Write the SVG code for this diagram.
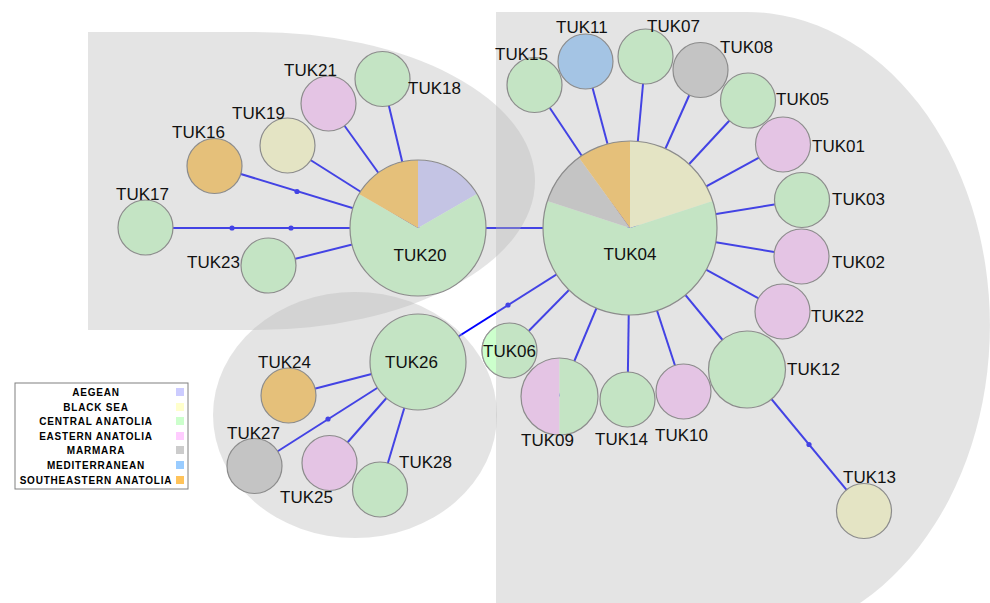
<svg xmlns="http://www.w3.org/2000/svg" width="990" height="603" viewBox="0 0 990 603">
<style>
.e{stroke:#0000ff;stroke-width:2;fill:none}
.d{fill:#0000ff}
.reg{fill:#b6b6b6;opacity:0.37}
.n{stroke:#8c8c8c;stroke-width:1.2}
.o{fill:none;stroke:#8c8c8c;stroke-width:1.2}
.ca{fill:#c4e4c4}.ea{fill:#e4c4e4}.bs{fill:#e4e4c4}.ae{fill:#c4c4e4}.ma{fill:#c4c4c4}.me{fill:#a4c4e4}.se{fill:#e5c07a}
.t{font-family:"Liberation Sans",Arial,sans-serif;font-size:17px;fill:#111}
.lg{font-family:"Liberation Sans",Arial,sans-serif;font-size:10px;font-weight:bold;letter-spacing:0.8px;fill:#000;text-anchor:middle}
</style>
<defs>
<clipPath id="leftOfRegion"><rect x="0" y="0" width="496" height="603"/></clipPath>
</defs>
<rect width="990" height="603" fill="#ffffff"/>
<g id="connectors">
<line class="e" x1="630" y1="228" x2="534.5" y2="85"/>
<line class="e" x1="630" y1="228" x2="585.5" y2="61.5"/>
<line class="e" x1="630" y1="228" x2="645.5" y2="56.5"/>
<line class="e" x1="630" y1="228" x2="700.5" y2="70"/>
<line class="e" x1="630" y1="228" x2="748" y2="100.5"/>
<line class="e" x1="630" y1="228" x2="783" y2="144.5"/>
<line class="e" x1="630" y1="228" x2="802" y2="200"/>
<line class="e" x1="630" y1="228" x2="801.5" y2="256.5"/>
<line class="e" x1="630" y1="228" x2="782.5" y2="311.5"/>
<line class="e" x1="630" y1="228" x2="747" y2="369.5"/>
<line class="e" x1="630" y1="228" x2="683.5" y2="391.5"/>
<line class="e" x1="630" y1="228" x2="627.5" y2="399.5"/>
<line class="e" x1="630" y1="228" x2="559.5" y2="396.5"/>
<line class="e" x1="630" y1="228" x2="509.5" y2="350.5"/>
<line class="e" x1="630" y1="228" x2="418" y2="362"/>
<line class="e" x1="630" y1="228" x2="418" y2="228"/>
<line class="e" x1="747" y1="369.5" x2="864" y2="511"/>
<line class="e" x1="418" y1="228" x2="145.5" y2="228"/>
<line class="e" x1="418" y1="228" x2="214.5" y2="166"/>
<line class="e" x1="418" y1="228" x2="287.5" y2="145.5"/>
<line class="e" x1="418" y1="228" x2="328.5" y2="103.5"/>
<line class="e" x1="418" y1="228" x2="382.5" y2="79"/>
<line class="e" x1="418" y1="228" x2="268.5" y2="265.5"/>
<line class="e" x1="418" y1="362" x2="288.5" y2="395.5"/>
<line class="e" x1="418" y1="362" x2="254.5" y2="466"/>
<line class="e" x1="418" y1="362" x2="329.5" y2="463"/>
<line class="e" x1="418" y1="362" x2="380" y2="489.5"/>
<circle class="d" cx="232" cy="228" r="2.6"/>
<circle class="d" cx="291" cy="228" r="2.6"/>
<circle class="d" cx="297" cy="191.5" r="2.6"/>
<circle class="d" cx="328" cy="419" r="2.6"/>
<circle class="d" cx="508" cy="305" r="2.6"/>
<circle class="d" cx="809" cy="444.5" r="2.6"/>
</g>
<g id="regions">
<path class="reg" d="M88,32 H255 A280,149 0 0 1 255,330 H88 Z"/>
<ellipse class="reg" cx="355" cy="415" rx="142" ry="123"/>
<path class="reg" d="M496,12 H747 A243,313.5 0 0 1 747,639 H496 Z"/>
</g>
<g id="TUK04">
<path class="bs" d="M630,228 L630,141 A87,87 0 0 1 712.74,201.12 Z"/>
<path class="ca" d="M630,228 L712.74,201.12 A87,87 0 1 1 547.26,201.12 Z"/>
<path class="ma" d="M630,228 L547.26,201.12 A87,87 0 0 1 578.86,157.62 Z"/>
<path class="se" d="M630,228 L578.86,157.62 A87,87 0 0 1 630,141 Z"/>
<circle class="o" cx="630" cy="228" r="87"/>
<text class="t" x="630" y="260" text-anchor="middle">TUK04</text>
</g>
<g id="TUK20">
<path class="ae" d="M418,228 L418,160 A68,68 0 0 1 476.89,194 Z"/>
<path class="ca" d="M418,228 L476.89,194 A68,68 0 1 1 359.11,194 Z"/>
<path class="se" d="M418,228 L359.11,194 A68,68 0 0 1 418,160 Z"/>
<circle class="o" cx="418" cy="228" r="68"/>
<text class="t" x="420" y="261" text-anchor="middle">TUK20</text>
</g>
<g id="TUK09">
<path class="ea" d="M559.5,358 A38.5,38.5 0 0 0 559.5,435 Z"/>
<path class="ca" d="M559.5,358 A38.5,38.5 0 0 1 559.5,435 Z"/>
<circle class="o" cx="559.5" cy="396.5" r="38.5"/>
<text class="t" x="521" y="446">TUK09</text>
</g>
<g id="TUK26"><circle class="n ca" cx="418" cy="362" r="48"/><text class="t" x="385" y="368">TUK26</text></g>
<g id="TUK12"><circle class="n ca" cx="747" cy="369.5" r="38.5"/><text class="t" x="787" y="375">TUK12</text></g>
<g id="TUK15"><circle class="n ca" cx="534.5" cy="85" r="27.5"/><text class="t" x="495" y="60">TUK15</text></g>
<g id="TUK11"><circle class="n me" cx="585.5" cy="61.5" r="27.5"/><text class="t" x="556" y="33">TUK11</text></g>
<g id="TUK07"><circle class="n ca" cx="645.5" cy="56.5" r="27.5"/><text class="t" x="647" y="32">TUK07</text></g>
<g id="TUK08"><circle class="n ma" cx="700.5" cy="70" r="27.5"/><text class="t" x="720" y="53">TUK08</text></g>
<g id="TUK05"><circle class="n ca" cx="748" cy="100.5" r="27.5"/><text class="t" x="776" y="105">TUK05</text></g>
<g id="TUK01"><circle class="n ea" cx="783" cy="144.5" r="27.5"/><text class="t" x="812" y="152">TUK01</text></g>
<g id="TUK03"><circle class="n ca" cx="802" cy="200" r="27.5"/><text class="t" x="832" y="205">TUK03</text></g>
<g id="TUK02"><circle class="n ea" cx="801.5" cy="256.5" r="27.5"/><text class="t" x="832" y="268">TUK02</text></g>
<g id="TUK22"><circle class="n ea" cx="782.5" cy="311.5" r="27.5"/><text class="t" x="811" y="322">TUK22</text></g>
<g id="TUK13"><circle class="n bs" cx="864" cy="511" r="27.5"/><text class="t" x="843" y="483">TUK13</text></g>
<g id="TUK10"><circle class="n ea" cx="683.5" cy="391.5" r="27.5"/><text class="t" x="655" y="441">TUK10</text></g>
<g id="TUK14"><circle class="n ca" cx="627.5" cy="399.5" r="27.5"/><text class="t" x="595" y="445">TUK14</text></g>
<g id="TUK06">
<circle class="n ca" cx="509.5" cy="350.5" r="27.5"/>
<circle cx="509.5" cy="350.5" r="27.5" fill="#ccffcc" stroke="#999999" stroke-width="1.2" clip-path="url(#leftOfRegion)"/>
<text class="t" x="483" y="357">TUK06</text>
</g>
<g id="TUK17"><circle class="n ca" cx="145.5" cy="227.5" r="27.5"/><text class="t" x="116" y="200">TUK17</text></g>
<g id="TUK16"><circle class="n se" cx="214.5" cy="166" r="27.5"/><text class="t" x="172" y="138">TUK16</text></g>
<g id="TUK19"><circle class="n bs" cx="287.5" cy="145.5" r="27.5"/><text class="t" x="232" y="119">TUK19</text></g>
<g id="TUK21"><circle class="n ea" cx="328.5" cy="103.5" r="27.5"/><text class="t" x="284" y="76">TUK21</text></g>
<g id="TUK18"><circle class="n ca" cx="382.5" cy="79" r="27.5"/><text class="t" x="408" y="94">TUK18</text></g>
<g id="TUK23"><circle class="n ca" cx="268.5" cy="265.5" r="27.5"/><text class="t" x="187" y="268">TUK23</text></g>
<g id="TUK24"><circle class="n se" cx="288.5" cy="395.5" r="27.5"/><text class="t" x="258" y="368">TUK24</text></g>
<g id="TUK27"><circle class="n ma" cx="254.5" cy="466" r="27.5"/><text class="t" x="227" y="439">TUK27</text></g>
<g id="TUK25"><circle class="n ea" cx="329.5" cy="463" r="27.5"/><text class="t" x="280" y="503">TUK25</text></g>
<g id="TUK28"><circle class="n ca" cx="380" cy="489.5" r="27.5"/><text class="t" x="399" y="468">TUK28</text></g>
<g id="legend">
<rect x="15" y="383" width="173" height="106" fill="#ffffff" stroke="#808080" stroke-width="1"/>
<text class="lg" x="96" y="396">AEGEAN</text>
<text class="lg" x="96" y="411">BLACK SEA</text>
<text class="lg" x="96" y="425">CENTRAL ANATOLIA</text>
<text class="lg" x="96" y="440">EASTERN ANATOLIA</text>
<text class="lg" x="96" y="454">MARMARA</text>
<text class="lg" x="96" y="469">MEDITERRANEAN</text>
<text class="lg" x="96" y="484">SOUTHEASTERN ANATOLIA</text>
<rect x="176" y="388" width="8" height="8" fill="#ccccff"/>
<rect x="176" y="403" width="8" height="8" fill="#ffffcc"/>
<rect x="176" y="417" width="8" height="8" fill="#ccffcc"/>
<rect x="176" y="432" width="8" height="8" fill="#ffccff"/>
<rect x="176" y="446" width="8" height="8" fill="#cccccc"/>
<rect x="176" y="461" width="8" height="8" fill="#99ccff"/>
<rect x="176" y="476" width="8" height="8" fill="#ffc35a"/>
</g>
</svg>
